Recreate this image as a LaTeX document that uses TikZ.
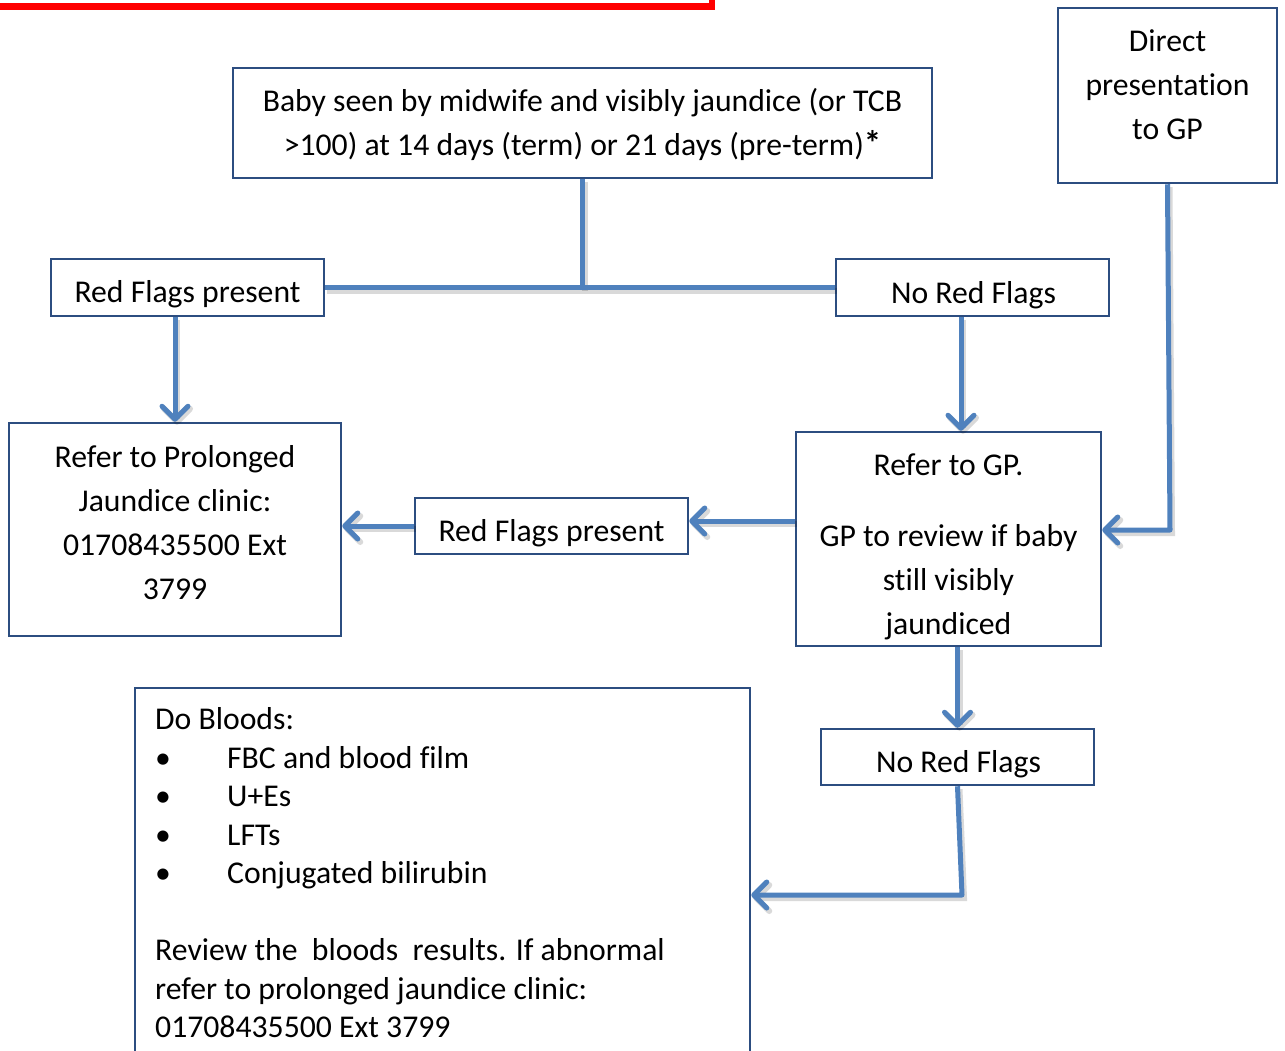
\documentclass[tikz,border=0pt]{standalone}
\usepackage{fontspec}
\setmainfont{Carlito}[Ligatures=NoCommon]
\usetikzlibrary{arrows.meta}
\definecolor{boxblue}{HTML}{2C4D80}
\definecolor{linkblue}{HTML}{4F81BD}
\begin{document}
\begin{tikzpicture}[x=1pt,y=-1pt,
  every node/.style={font=\fontsize{31.7}{44}\selectfont},
  box/.style={draw=boxblue, line width=2.5pt, inner sep=0pt},
  txt/.style={align=center, inner sep=0pt},
  link/.style={draw=linkblue, line width=5pt, line join=round,
    preaction={draw=black, opacity=0.15, line width=6pt, transform canvas={shift={(2pt,-3pt)}}}},
  arr/.style={link, -{Straight Barb[length=13pt,width=26pt,round]}}
]
\useasboundingbox (0,0) rectangle (1285,1050);
\draw[red, line width=6.5pt] (-20,-60) rectangle (712,6.7);

% boxes
\node[box, minimum width=699pt, minimum height=110pt] (baby) at (582.5,123) {};
\node[txt] (babyt) at (582.5,125) {\strut Baby seen by midwife and visibly jaundice (or TCB\\\strut >100) at 14 days (term) or 21 days (pre-term){\fontsize{35}{44}\selectfont\bfseries *}};

\node[box, minimum width=219pt, minimum height=175pt] (direct) at (1167.5,95.5) {};
\node[txt] (directt) at (1167.5,87) {\strut Direct\\\strut presentation\\\strut to GP};

\node[box, minimum width=273pt, minimum height=57pt] (rf1) at (187.5,287.5) {};
\node[txt] (rf1t) at (187.5,294) {\strut Red Flags present};

\node[box, minimum width=273pt, minimum height=57pt] (nrf1) at (972.5,287.5) {};
\node[txt] (nrf1t) at (973.5,295) {\strut No Red Flags};

\node[box, minimum width=332pt, minimum height=213pt] (prol) at (175,529.5) {};
\node[txt] (prolt) at (175,525) {\strut Refer to Prolonged\\\strut Jaundice clinic:\\\strut 01708435500 Ext\\\strut 3799};

\node[box, minimum width=273pt, minimum height=56pt] (rf2) at (551.5,526) {};
\node[txt] (rf2t) at (551.5,533) {\strut Red Flags present};

\node[box, minimum width=305pt, minimum height=214pt] (gp) at (948.5,539) {};
\node[txt] (gpt) at (948.5,546.5) {\strut Refer to GP.\\[27pt]\strut GP to review if baby\\\strut still visibly\\\strut jaundiced};

\node[box, minimum width=273pt, minimum height=56pt] (nrf2) at (957.5,757) {};
\node[txt] (nrf2t) at (958.5,764) {\strut No Red Flags};

\node[box, minimum width=615pt, minimum height=400pt] (blood) at (442.5,888) {};
\node[inner sep=0pt, align=left, anchor=north west, font=\fontsize{31.7}{38.5}\selectfont] (bloodt) at (155,702.5) {\strut Do Bloods:\\
\makebox[72pt][l]{\textbullet}FBC and blood film\\
\makebox[72pt][l]{\textbullet}U+Es\\
\makebox[72pt][l]{\textbullet}LFTs\\
\makebox[72pt][l]{\textbullet}Conjugated bilirubin\\[38.5pt]
Review the~ bloods~ results. If abnormal\\
refer to prolonged jaundice clinic:\\
01708435500 Ext 3799};

% connectors
\coordinate (jd) at (1170,530);
\coordinate (jb) at (962,895);
\draw[link] (baby.south) -- (baby.south |- rf1.east);
\draw[link] (rf1.east) -- (nrf1.west);
\draw[arr] (prol.north |- rf1.south) -- (prol.north);
\draw[arr] ([xshift=-11.5pt]nrf1.south) -- ([xshift=-11.5pt]nrf1.south |- gp.north);
\draw[arr] (direct.south) -- (jd) -- (jd -| gp.east);
\draw[arr] ([yshift=18pt]gp.west) -- ([yshift=18pt]gp.west -| rf2.east);
\draw[arr] (rf2.west) -- (rf2.west -| prol.east);
\draw[arr] (gp.south -| nrf2.north) -- (nrf2.north);
\draw[arr] (nrf2.south) -- (jb) -- (jb -| blood.east);
\end{tikzpicture}
\end{document}
